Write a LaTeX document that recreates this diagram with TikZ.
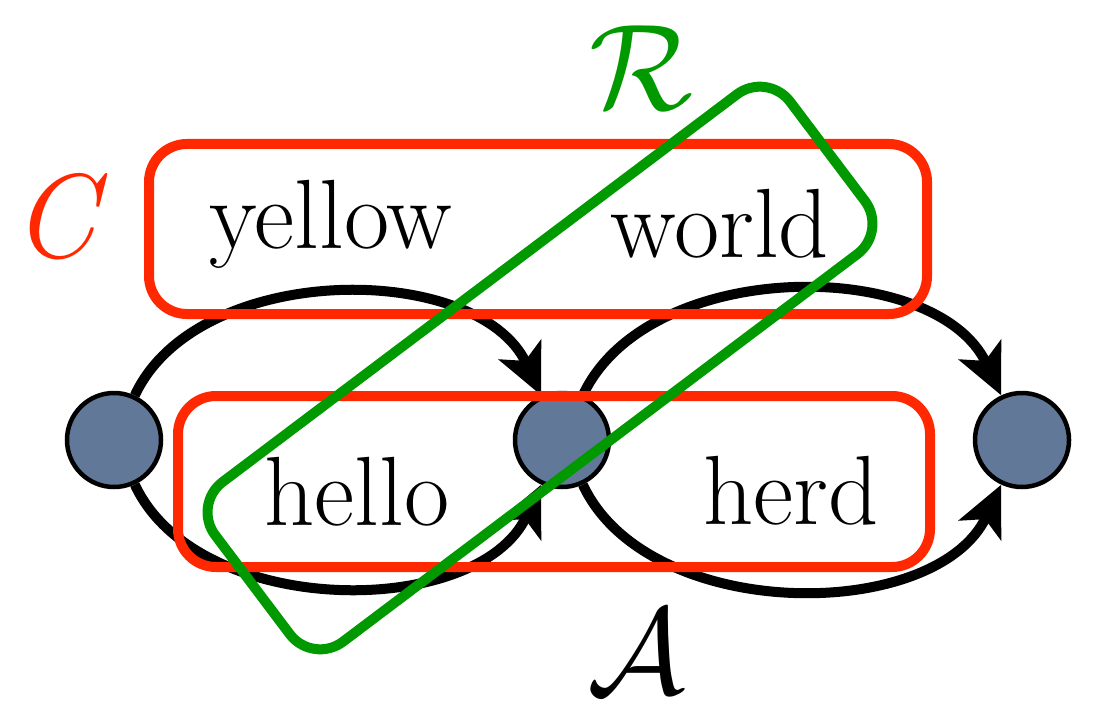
\documentclass[tikz,border=0pt]{standalone}
\usepackage{graphicx}
\usepackage{fontspec}
\usepackage{tikz}
\usetikzlibrary{arrows.meta}
\usepackage{xcolor}
\definecolor{stateblue}{RGB}{98,120,152}
\definecolor{boxred}{RGB}{255,40,0}
\definecolor{boxgreen}{RGB}{0,153,0}

\begin{document}
\begin{tikzpicture}[
  state/.style={circle,draw=black,line width=0.045cm,fill=stateblue,minimum size=0.94cm,inner sep=0pt},
  edge/.style={line width=0.1cm,-{Stealth[length=5mm,width=4.6mm,inset=1.2mm]}},
  word/.style={anchor=base,font=\fontsize{28}{32}\selectfont,inner sep=0pt},
  group/.style={draw,line width=0.1cm,rounded corners=0.38cm,inner sep=0pt},
  setlabel/.style={font=\fontsize{24}{30}\selectfont,inner sep=0pt}]
\useasboundingbox (0,0) rectangle (11.18,7.04);
\node[state] (s0) at (1.14,2.64) {};
\node[state] (s1) at (5.62,2.64) {};
\node[state] (s2) at (10.22,2.64) {};
\draw[edge] (s0) to[bend left=65,looseness=0.94] (s1);
\draw[edge] (s0) to[bend right=65,looseness=0.94] (s1);
\draw[edge] (s1) to[bend left=65,looseness=0.94] (s2);
\draw[edge] (s1) to[bend right=65,looseness=0.94] (s2);
\node[word] (yellow) at (3.31,4.56) {yellow};
\node[word] (world) at (7.20,4.46) {world};
\node[word] (hello) at (3.57,1.79) {hello};
\node[word] (herd) at (7.91,1.80) {herd};
\node[group,draw=boxred,minimum width=7.78cm,minimum height=1.70cm] (C) at (5.38,4.75) {};
\node[group,draw=boxred,minimum width=7.52cm,minimum height=1.71cm] (A) at (5.54,2.225) {};
\node[group,draw=boxgreen,rotate=37,minimum width=7.2cm,minimum height=2.0cm] (R) at (5.40,3.36) {};
\node[font=\fontsize{34}{40}\selectfont,inner sep=0pt,text=boxred] (Clabel) at (0.60,4.87) {\textit{C}};
\node[setlabel,text=boxgreen] (Rlabel) at (6.41,6.36) {\scalebox{1.4}{$\mathcal{R}$}};
\node[setlabel] (Alabel) at (6.36,0.52) {\scalebox{1.4}{$\mathcal{A}$}};
\end{tikzpicture}
\end{document}
